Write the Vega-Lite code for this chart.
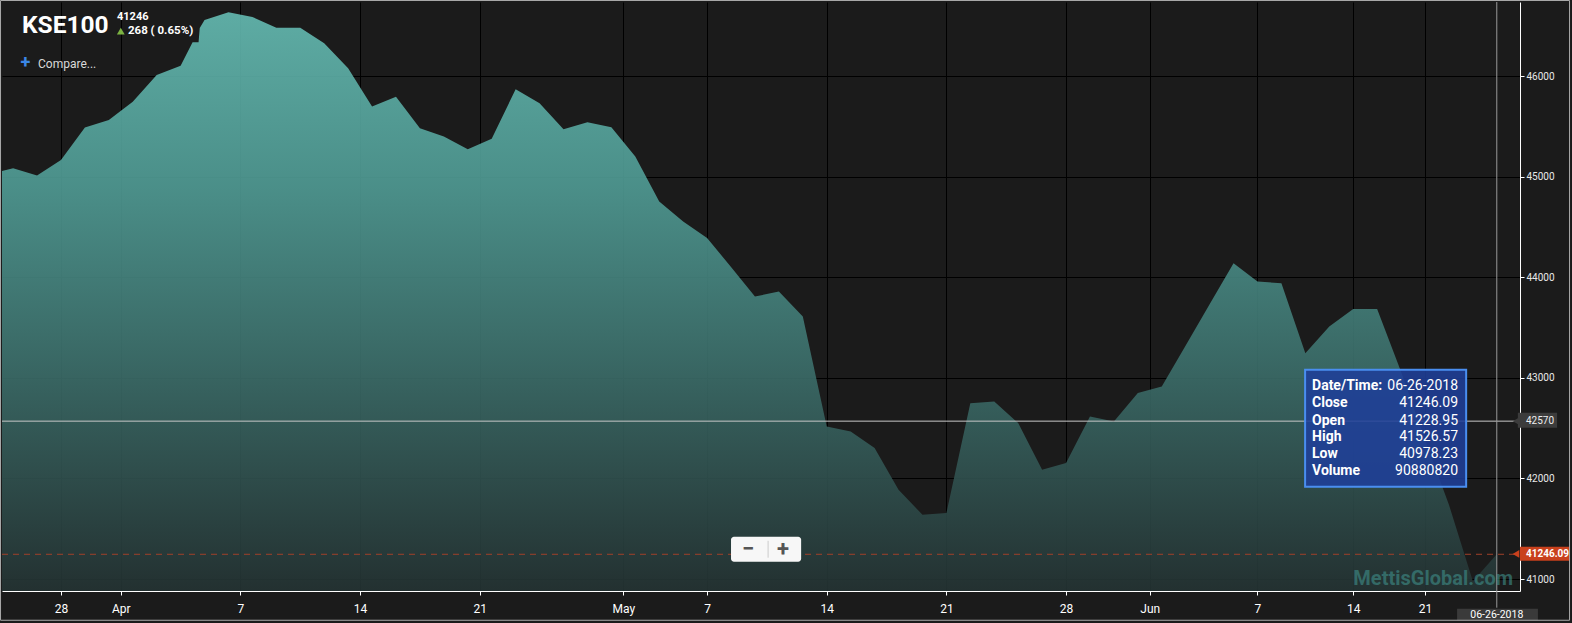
{
  "$schema": "https://vega.github.io/schema/vega-lite/v6.json",
  "width": 1518,
  "height": 589,
  "autosize": {"type": "none"},
  "padding": {"left": 2, "top": 2, "right": 52, "bottom": 32},
  "background": "#1b1b1b",
  "config": {
    "view": {"stroke": null},
    "text": {"font": "Roboto"},
    "axis": {"labelFont": "Roboto", "domainColor": "#ffffff", "domainWidth": 1, "tickColor": "#ffffff", "gridColor": "#000000", "gridOpacity": 1, "gridWidth": 1, "labelColor": "#ffffff"}
  },
  "layer": [
    {
      "data": {"values": [
        {"i": -1, "date": "2018-03-22", "close": 45027},
        {"i": 0, "date": "2018-03-26", "close": 45085},
        {"i": 1, "date": "2018-03-27", "close": 45012},
        {"i": 2, "date": "2018-03-28", "close": 45168},
        {"i": 3, "date": "2018-03-29", "close": 45489},
        {"i": 4, "date": "2018-03-30", "close": 45565},
        {"i": 5, "date": "2018-04-02", "close": 45747},
        {"i": 6, "date": "2018-04-03", "close": 46013},
        {"i": 7, "date": "2018-04-04", "close": 46105},
        {"i": 7.5, "close": 46338},
        {"i": 7.75, "close": 46338},
        {"i": 7.8, "close": 46480},
        {"i": 8, "date": "2018-04-05", "close": 46559},
        {"i": 9, "date": "2018-04-06", "close": 46636},
        {"i": 10, "date": "2018-04-09", "close": 46589},
        {"i": 11, "date": "2018-04-10", "close": 46483},
        {"i": 12, "date": "2018-04-11", "close": 46483},
        {"i": 13, "date": "2018-04-12", "close": 46328},
        {"i": 14, "date": "2018-04-13", "close": 46079},
        {"i": 15, "date": "2018-04-16", "close": 45698},
        {"i": 16, "date": "2018-04-17", "close": 45797},
        {"i": 17, "date": "2018-04-18", "close": 45483},
        {"i": 18, "date": "2018-04-19", "close": 45400},
        {"i": 19, "date": "2018-04-20", "close": 45274},
        {"i": 20, "date": "2018-04-23", "close": 45377},
        {"i": 21, "date": "2018-04-24", "close": 45871},
        {"i": 22, "date": "2018-04-25", "close": 45731},
        {"i": 23, "date": "2018-04-26", "close": 45473},
        {"i": 24, "date": "2018-04-27", "close": 45543},
        {"i": 25, "date": "2018-04-30", "close": 45493},
        {"i": 26, "date": "2018-05-02", "close": 45201},
        {"i": 27, "date": "2018-05-03", "close": 44753},
        {"i": 28, "date": "2018-05-04", "close": 44555},
        {"i": 29, "date": "2018-05-07", "close": 44390},
        {"i": 30, "date": "2018-05-08", "close": 44104},
        {"i": 31, "date": "2018-05-09", "close": 43809},
        {"i": 32, "date": "2018-05-10", "close": 43859},
        {"i": 33, "date": "2018-05-11", "close": 43610},
        {"i": 34, "date": "2018-05-14", "close": 42517},
        {"i": 35, "date": "2018-05-15", "close": 42467},
        {"i": 36, "date": "2018-05-16", "close": 42302},
        {"i": 37, "date": "2018-05-17", "close": 41888},
        {"i": 38, "date": "2018-05-18", "close": 41639},
        {"i": 39, "date": "2018-05-21", "close": 41656},
        {"i": 40, "date": "2018-05-22", "close": 42749},
        {"i": 41, "date": "2018-05-23", "close": 42765},
        {"i": 42, "date": "2018-05-24", "close": 42551},
        {"i": 43, "date": "2018-05-25", "close": 42086},
        {"i": 44, "date": "2018-05-28", "close": 42153},
        {"i": 45, "date": "2018-05-29", "close": 42616},
        {"i": 46, "date": "2018-05-30", "close": 42567},
        {"i": 47, "date": "2018-05-31", "close": 42849},
        {"i": 48, "date": "2018-06-01", "close": 42914},
        {"i": 49, "date": "2018-06-04", "close": 43323},
        {"i": 50, "date": "2018-06-05", "close": 43733},
        {"i": 51, "date": "2018-06-06", "close": 44141},
        {"i": 52, "date": "2018-06-07", "close": 43958},
        {"i": 53, "date": "2018-06-11", "close": 43942},
        {"i": 54, "date": "2018-06-12", "close": 43246},
        {"i": 55, "date": "2018-06-13", "close": 43511},
        {"i": 56, "date": "2018-06-14", "close": 43684},
        {"i": 57, "date": "2018-06-19", "close": 43684},
        {"i": 58, "date": "2018-06-20", "close": 43061},
        {"i": 59, "date": "2018-06-21", "close": 42385},
        {"i": 60, "date": "2018-06-22", "close": 41739},
        {"i": 61, "date": "2018-06-25", "close": 40978},
        {"i": 62, "date": "2018-06-26", "close": 41246.09}
      ]},
      "mark": {
        "type": "area",
        "clip": true,
        "opacity": 0.9,
        "color": {"gradient": "linear", "x1": 0, "y1": 0, "x2": 0, "y2": 1, "stops": [
          {"offset": 0, "color": "#65bcb3"},
          {"offset": 0.3, "color": "#509c95"},
          {"offset": 0.6, "color": "#3d716d"},
          {"offset": 1, "color": "#243333"}
        ]}
      },
      "encoding": {
        "x": {
          "field": "i", "type": "quantitative",
          "scale": {"domain": [-0.464, 62.97], "nice": false, "zero": false},
          "axis": {
            "title": null, "orient": "bottom",
            "values": [2, 4.5, 9.5, 14.5, 19.5, 25.5, 29, 34, 39, 44, 47.5, 52, 56, 59],
            "labelExpr": "datum.value==2?'28':datum.value==4.5?'Apr':datum.value==9.5?'7':datum.value==14.5?'14':datum.value==19.5?'21':datum.value==25.5?'May':datum.value==29?'7':datum.value==34?'14':datum.value==39?'21':datum.value==44?'28':datum.value==47.5?'Jun':datum.value==52?'7':datum.value==56?'14':'21'",
            "labelFontSize": 12, "labelPadding": 8, "tickSize": 4,
            "labelOverlap": false, "labelFlush": false, "grid": true
          }
        },
        "y": {
          "field": "close", "type": "quantitative",
          "scale": {"domain": [40881, 46738], "nice": false, "zero": false},
          "axis": {
            "title": null, "orient": "right",
            "values": [41000, 42000, 43000, 44000, 45000, 46000],
            "format": "d", "labelFontSize": 10, "labelPadding": 2, "tickSize": 4,
            "labelColor": "#e8e8e8", "grid": true
          }
        },
        "y2": {"datum": 40881}
      }
    },
    {
      "data": {"values": [{}]},
      "mark": {"type": "rule", "color": "#c8c8c8", "strokeWidth": 1},
      "encoding": {"x": {"datum": -0.464}, "x2": {"datum": 62.76}, "y": {"datum": 42570}}
    },
    {
      "data": {"values": [{}]},
      "mark": {"type": "rule", "color": "#a0402a", "strokeWidth": 1, "strokeDash": [6, 5]},
      "encoding": {"x": {"datum": -0.464}, "x2": {"datum": 62.76}, "y": {"datum": 41246.09}}
    },
    {
      "data": {"values": [{}]},
      "mark": {"type": "rule", "color": "#9a9a9a", "strokeWidth": 1},
      "encoding": {"x": {"datum": 62}, "y": {"datum": 46738}, "y2": {"datum": 40715}}
    },
    {
      "data": {"values": [{}]},
      "mark": {"type": "text", "text": "MettisGlobal.com", "align": "right", "baseline": "middle", "fontSize": 20, "fontWeight": "bold", "color": "#3f8f8a", "opacity": 0.6},
      "encoding": {"x": {"datum": 62.68}, "y": {"datum": 41003}}
    },
    {
      "data": {"values": [{}]},
      "mark": {"type": "rect", "fill": "#f7f7f7", "cornerRadius": 3},
      "encoding": {"x": {"datum": 30.0}, "x2": {"datum": 32.93}, "y": {"datum": 41420}, "y2": {"datum": 41172}}
    },
    {
      "data": {"values": [{}]},
      "mark": {"type": "rule", "color": "#cccccc", "strokeWidth": 1},
      "encoding": {"x": {"datum": 31.55}, "y": {"datum": 41380}, "y2": {"datum": 41212}}
    },
    {
      "data": {"values": [{}]},
      "mark": {"type": "text", "text": "−", "align": "center", "baseline": "middle", "fontSize": 22, "fontWeight": "bold", "color": "#555555"},
      "encoding": {"x": {"datum": 30.71}, "y": {"datum": 41301}}
    },
    {
      "data": {"values": [{}]},
      "mark": {"type": "text", "text": "+", "align": "center", "baseline": "middle", "fontSize": 22, "fontWeight": "bold", "color": "#555555"},
      "encoding": {"x": {"datum": 32.17}, "y": {"datum": 41301}}
    },
    {
      "data": {"values": [{}]},
      "mark": {"type": "rect", "fill": "#1f3f98", "fillOpacity": 0.88, "stroke": "#4a8ef0", "strokeWidth": 2},
      "encoding": {"x": {"datum": 53.99}, "x2": {"datum": 60.72}, "y": {"datum": 43080}, "y2": {"datum": 41917}}
    },
    {
      "data": {"values": [
        {"key": "Date/Time:", "val": "06-26-2018", "ty": 42921},
        {"key": "Close", "val": "41246.09", "ty": 42752},
        {"key": "Open", "val": "41228.95", "ty": 42573},
        {"key": "High", "val": "41526.57", "ty": 42414},
        {"key": "Low", "val": "40978.23", "ty": 42245},
        {"key": "Volume", "val": "90880820", "ty": 42076}
      ]},
      "layer": [
        {
          "mark": {"type": "text", "align": "left", "baseline": "middle", "fontSize": 14, "fontWeight": "bold", "color": "#ffffff"},
          "encoding": {"x": {"datum": 54.28}, "y": {"field": "ty", "type": "quantitative"}, "text": {"field": "key"}}
        },
        {
          "mark": {"type": "text", "align": "right", "baseline": "middle", "fontSize": 14, "color": "#ffffff"},
          "encoding": {"x": {"datum": 60.38}, "y": {"field": "ty", "type": "quantitative"}, "text": {"field": "val"}}
        }
      ]
    },
    {
      "data": {"values": [{}]},
      "mark": {"type": "text", "text": "KSE100", "align": "left", "baseline": "middle", "fontSize": 24.5, "fontWeight": "bold", "color": "#ffffff"},
      "encoding": {"x": {"datum": 0.372}, "y": {"datum": 46500}}
    },
    {
      "data": {"values": [{}]},
      "mark": {"type": "text", "text": "41246", "align": "left", "baseline": "middle", "fontSize": 11, "fontWeight": "bold", "color": "#ffffff"},
      "encoding": {"x": {"datum": 4.34}, "y": {"datum": 46589}}
    },
    {
      "data": {"values": [{}]},
      "mark": {"type": "point", "shape": "triangle-up", "filled": true, "size": 60, "color": "#7cb342", "opacity": 1},
      "encoding": {"x": {"datum": 4.5}, "y": {"datum": 46448}}
    },
    {
      "data": {"values": [{}]},
      "mark": {"type": "text", "text": "268 ( 0.65%)", "align": "left", "baseline": "middle", "fontSize": 11.5, "fontWeight": "bold", "color": "#ffffff"},
      "encoding": {"x": {"datum": 4.8}, "y": {"datum": 46450}}
    },
    {
      "data": {"values": [{}]},
      "mark": {"type": "text", "text": "+", "align": "center", "baseline": "middle", "fontSize": 18, "fontWeight": "bold", "color": "#3b87e6"},
      "encoding": {"x": {"datum": 0.518}, "y": {"datum": 46132}}
    },
    {
      "data": {"values": [{}]},
      "mark": {"type": "text", "text": "Compare...", "align": "left", "baseline": "middle", "fontSize": 12, "color": "#d9d9d9"},
      "encoding": {"x": {"datum": 1.04}, "y": {"datum": 46122}}
    },
    {
      "data": {"values": [{}]},
      "mark": {"type": "rect", "fill": "#3c3c3c"},
      "encoding": {"x": {"datum": 62.88}, "x2": {"datum": 64.52}, "y": {"datum": 42653}, "y2": {"datum": 42504}}
    },
    {
      "data": {"values": [{}]},
      "mark": {"type": "point", "shape": "triangle-left", "filled": true, "size": 50, "color": "#3c3c3c", "opacity": 1},
      "encoding": {"x": {"datum": 62.8}, "y": {"datum": 42570}}
    },
    {
      "data": {"values": [{}]},
      "mark": {"type": "text", "text": "42570", "align": "left", "baseline": "middle", "fontSize": 10, "color": "#eeeeee"},
      "encoding": {"x": {"datum": 63.22}, "y": {"datum": 42570}}
    },
    {
      "data": {"values": [{}]},
      "mark": {"type": "rect", "fill": "#c9411d"},
      "encoding": {"x": {"datum": 62.97}, "x2": {"datum": 65.02}, "y": {"datum": 41321}, "y2": {"datum": 41182}}
    },
    {
      "data": {"values": [{}]},
      "mark": {"type": "point", "shape": "triangle-left", "filled": true, "size": 60, "color": "#c9411d", "opacity": 1},
      "encoding": {"x": {"datum": 62.8}, "y": {"datum": 41250}}
    },
    {
      "data": {"values": [{}]},
      "mark": {"type": "text", "text": "41246.09", "align": "left", "baseline": "middle", "fontSize": 10, "fontWeight": "bold", "color": "#ffffff"},
      "encoding": {"x": {"datum": 63.22}, "y": {"datum": 41250}}
    },
    {
      "data": {"values": [{}]},
      "mark": {"type": "rect", "fill": "#3a3a3a"},
      "encoding": {"x": {"datum": 60.34}, "x2": {"datum": 63.72}, "y": {"datum": 40705}, "y2": {"datum": 40590}}
    },
    {
      "data": {"values": [{}]},
      "mark": {"type": "text", "text": "06-26-2018", "align": "center", "baseline": "middle", "fontSize": 10.5, "color": "#ffffff"},
      "encoding": {"x": {"datum": 62.0}, "y": {"datum": 40645}}
    },
    {
      "data": {"values": [{}]},
      "mark": {"type": "rule", "color": "#aaaaaa", "strokeWidth": 1},
      "encoding": {"x": {"datum": -0.526}, "y": {"datum": 46753}, "y2": {"datum": 40590}}
    },
    {
      "data": {"values": [{}]},
      "mark": {"type": "rule", "color": "#aaaaaa", "strokeWidth": 1},
      "encoding": {"x": {"datum": 65.04}, "y": {"datum": 46753}, "y2": {"datum": 40590}}
    },
    {
      "data": {"values": [{}]},
      "mark": {"type": "rule", "color": "#aaaaaa", "strokeWidth": 1},
      "encoding": {"x": {"datum": -0.526}, "x2": {"datum": 65.04}, "y": {"datum": 46753}}
    },
    {
      "data": {"values": [{}]},
      "mark": {"type": "rule", "color": "#aaaaaa", "strokeWidth": 1},
      "encoding": {"x": {"datum": -0.526}, "x2": {"datum": 65.04}, "y": {"datum": 40590}}
    }
  ]
}
